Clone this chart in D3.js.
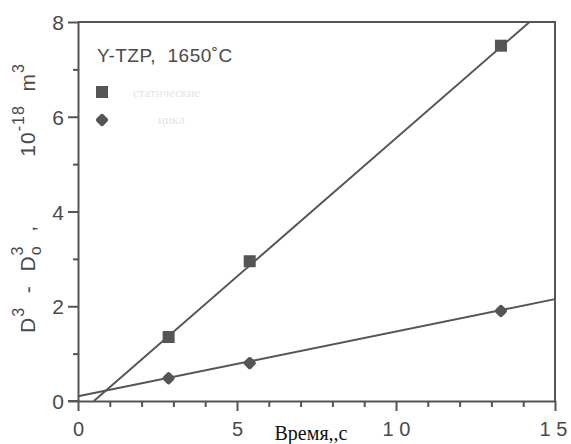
<!DOCTYPE html>
<html>
<head>
<meta charset="utf-8">
<script src="https://cdn.jsdelivr.net/npm/d3@7"></script>
<style>
  body { margin: 0; background: #fff; }
  svg { display: block; }
  .lbl { font-family: "Liberation Sans", Arial, sans-serif; fill: #4a4a4a; }
</style>
</head>
<body>
<script>
// data
var timeS = [2.85, 5.4, 13.3];
var squareVals = [1.35, 2.95, 7.5];
var circleVals = [0.48, 0.8, 1.9];
// fitted lines: [x, y] ends
var squareLine = [[0.5, 0], [14.2, 8]];
var circleLine = [[0, 0.1], [15, 2.15]];
var xMajor = [0, 5, 10, 15];
var yMajor = [0, 2, 4, 6, 8];

var width = 571, height = 444;
var margin = { top: 22, right: 16, bottom: 43, left: 78 };
var ink = "#555";

var svg = d3.select("body").append("svg")
  .attr("width", width)
  .attr("height", height);

var x = d3.scaleLinear().domain([0, 15]).range([margin.left, width - margin.right]);
var y = d3.scaleLinear().domain([0, 8]).range([height - margin.bottom, margin.top]);

// frame top and right
svg.append("path")
  .attr("d", "M" + x(0) + "," + y(8) + "H" + x(15) + "V" + y(0))
  .attr("fill", "none").attr("stroke", ink).attr("stroke-width", 2);

// y axis
var yAxis = d3.axisLeft(y).tickValues(d3.range(0, 9, 1)).tickSize(0).tickFormat("");
var gy = svg.append("g").attr("transform", "translate(" + x(0) + ",0)").call(yAxis);
gy.select(".domain").attr("stroke", ink).attr("stroke-width", 2);
gy.selectAll(".tick line")
  .attr("x2", function (d) { return d % 2 === 0 ? -10 : -5; })
  .attr("stroke", ink).attr("stroke-width", 2);
gy.selectAll(".tick").filter(function (d) { return yMajor.indexOf(d) >= 0; })
  .append("text")
  .attr("class", "lbl")
  .attr("x", -14).attr("dy", "0.36em")
  .attr("text-anchor", "end")
  .style("font-size", "21px")
  .text(function (d) { return d; });

// x axis
var xAxis = d3.axisBottom(x).tickValues(d3.range(0, 16, 1)).tickSize(0).tickFormat("");
var gx = svg.append("g").attr("transform", "translate(0," + y(0) + ")").call(xAxis);
gx.select(".domain").attr("stroke", ink).attr("stroke-width", 2);
gx.selectAll(".tick line")
  .attr("y2", function (d) { return d % 5 === 0 ? 10 : 6; })
  .attr("stroke", ink).attr("stroke-width", 2);
gx.selectAll(".tick").filter(function (d) { return xMajor.indexOf(d) >= 0; })
  .append("text")
  .attr("class", "lbl")
  .attr("y", 35)
  .attr("dx", function (d) { return d === 15 ? -2 : 0; })
  .attr("text-anchor", "middle")
  .style("font-size", "20px")
  .text(function (d) { return d >= 10 ? String(d).split("").join(" ") : d; });
// extend x axis line left to the 0 tick of y
svg.append("line")
  .attr("x1", x(0) - 10).attr("x2", x(0))
  .attr("y1", y(0)).attr("y2", y(0))
  .attr("stroke", ink).attr("stroke-width", 2);

// x title
svg.append("text")
  .attr("x", 311).attr("y", 440)
  .attr("text-anchor", "middle")
  .style("font-family", "'Liberation Serif', 'Times New Roman', serif")
  .style("font-size", "20px")
  .attr("fill", "#111")
  .text("Время,,с");

// y title
var yt = svg.append("text")
  .attr("class", "lbl")
  .attr("transform", "translate(35,198) rotate(-90)")
  .attr("text-anchor", "middle")
  .style("font-size", "21px")
  .style("letter-spacing", "1px")
  .style("white-space", "pre");
yt.append("tspan").text("D");
yt.append("tspan").attr("dy", -11).style("font-size", "16px").text("3");
yt.append("tspan").attr("dy", 11).text("  -  D");
yt.append("tspan").attr("dy", 6).style("font-size", "16px").text("o");
yt.append("tspan").attr("dy", -18).attr("dx", -10).style("font-size", "16px").text("3");
yt.append("tspan").attr("dy", 12).text("  ,          10");
yt.append("tspan").attr("dy", -11).style("font-size", "16px").text("-18");
yt.append("tspan").attr("dy", 11).text("  m");
yt.append("tspan").attr("dy", -11).style("font-size", "16px").text("3");

// fitted lines
var line = d3.line().x(function (d) { return x(d[0]); }).y(function (d) { return y(d[1]); });
[squareLine, circleLine].forEach(function (pts) {
  svg.append("path")
    .attr("d", line(pts))
    .attr("fill", "none").attr("stroke", ink).attr("stroke-width", 2);
});

// markers
function diamond(sel) {
  sel.append("rect")
    .attr("x", -5).attr("y", -5).attr("width", 10).attr("height", 10)
    .attr("rx", 2.5)
    .attr("transform", "rotate(45)")
    .attr("fill", ink);
}
svg.selectAll(".sq").data(timeS).enter().append("rect")
  .attr("x", function (d) { return x(d) - 6; })
  .attr("y", function (d, i) { return y(squareVals[i]) - 6; })
  .attr("width", 12).attr("height", 12)
  .attr("fill", ink);
svg.selectAll(".ci").data(timeS).enter().append("g")
  .attr("transform", function (d, i) { return "translate(" + x(d) + "," + y(circleVals[i]) + ")"; })
  .call(diamond);

// legend
svg.append("text")
  .attr("class", "lbl")
  .attr("x", 97).attr("y", 62)
  .style("font-size", "19px")
  .style("letter-spacing", "0.5px")
  .style("white-space", "pre")
  .text("Y-TZP,  1650˚C");
svg.append("rect").attr("x", 96).attr("y", 86).attr("width", 12).attr("height", 12).attr("fill", ink);
svg.append("g").attr("transform", "translate(102,120)").call(diamond);
svg.append("text").attr("x", 133).attr("y", 97).style("font-size", "13px")
  .style("font-family", "'Liberation Serif', serif").attr("fill", "#e6e6e6").text("статические");
svg.append("text").attr("x", 158).attr("y", 124).style("font-size", "13px")
  .style("font-family", "'Liberation Serif', serif").attr("fill", "#e6e6e6").text("цикл");
</script>
</body>
</html>
